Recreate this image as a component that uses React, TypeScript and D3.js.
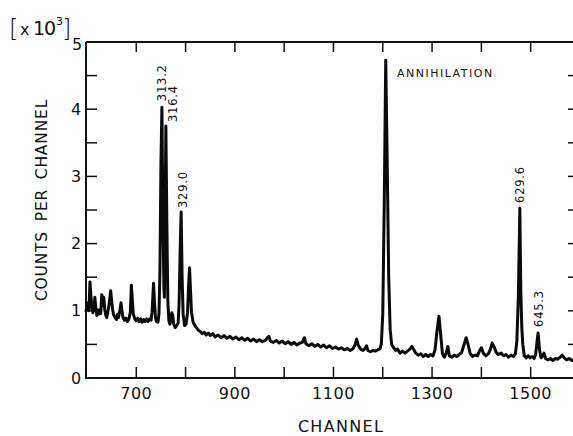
import React from "react";
import * as d3 from "d3";

// Gamma-ray spectrum: [channel, counts per channel (x10^3)]
const spectrum: [number, number][] = [
  [598, 1.0], [600, 1.05], [602, 1.12], [604, 1.0], [606, 1.43], [608, 1.22], [610, 1.06], [612, 0.97],
  [614, 1.04], [616, 1.2], [618, 1.04], [620, 0.93], [622, 1.01], [624, 0.95], [626, 1.02], [628, 0.96],
  [630, 1.24], [632, 1.08], [634, 1.2], [636, 1.02], [638, 0.94], [640, 0.9], [642, 0.97], [645, 1.1],
  [648, 1.3], [650, 1.15], [652, 1.02], [654, 0.94], [657, 0.9], [660, 0.87], [662, 0.95], [664, 0.9],
  [667, 1.02], [669, 1.12], [671, 1.0], [673, 0.9], [676, 0.86], [679, 0.89], [682, 0.84], [685, 0.88],
  [688, 0.98], [690, 1.38], [692, 1.16], [694, 0.95], [697, 0.88], [700, 0.85], [703, 0.89], [706, 0.84],
  [709, 0.88], [712, 0.83], [715, 0.87], [718, 0.84], [721, 0.88], [724, 0.84], [727, 0.88], [730, 0.86],
  [732, 0.98], [735, 1.41], [737, 1.12], [739, 0.9], [741, 0.84], [744, 0.83], [746, 0.95], [748, 1.6],
  [750, 3.2], [752, 4.03], [754, 2.4], [756, 1.35], [757, 1.2], [758, 1.8], [760, 3.75], [762, 2.3],
  [764, 1.15], [766, 0.86], [768, 0.8], [770, 0.84], [772, 0.97], [774, 0.93], [776, 0.8], [779, 0.75],
  [782, 0.78], [785, 0.82], [787, 1.15], [789, 1.9], [791, 2.47], [793, 1.5], [795, 0.95], [798, 0.78],
  [801, 0.8], [804, 0.98], [806, 1.35], [808, 1.64], [810, 1.3], [812, 0.98], [815, 0.84], [818, 0.79],
  [822, 0.75], [826, 0.71], [830, 0.69], [834, 0.66], [838, 0.68], [842, 0.64], [846, 0.67], [850, 0.63],
  [855, 0.66], [860, 0.61], [866, 0.64], [872, 0.6], [878, 0.63], [884, 0.59], [890, 0.62], [896, 0.58],
  [902, 0.61], [908, 0.57], [914, 0.6], [920, 0.56], [926, 0.59], [932, 0.55], [938, 0.58], [944, 0.54],
  [950, 0.57], [956, 0.54], [962, 0.56], [966, 0.6], [969, 0.62], [972, 0.55], [978, 0.53], [984, 0.56],
  [990, 0.52], [996, 0.55], [1002, 0.51], [1008, 0.54], [1014, 0.5], [1020, 0.53], [1026, 0.49],
  [1032, 0.52], [1037, 0.53], [1041, 0.6], [1044, 0.51], [1050, 0.48], [1056, 0.51], [1062, 0.47],
  [1068, 0.5], [1074, 0.46], [1080, 0.49], [1086, 0.45], [1092, 0.48], [1098, 0.44], [1104, 0.46],
  [1110, 0.43], [1116, 0.45], [1122, 0.42], [1128, 0.44], [1134, 0.41], [1140, 0.44], [1144, 0.5],
  [1147, 0.58], [1150, 0.49], [1155, 0.43], [1160, 0.41], [1164, 0.44], [1167, 0.48], [1170, 0.41],
  [1175, 0.39], [1180, 0.41], [1185, 0.4], [1190, 0.42], [1194, 0.43], [1197, 0.5], [1200, 0.95],
  [1203, 2.6], [1206, 4.73], [1209, 3.2], [1212, 1.5], [1215, 0.72], [1218, 0.5], [1222, 0.45],
  [1226, 0.41], [1230, 0.43], [1235, 0.37], [1240, 0.4], [1245, 0.37], [1250, 0.4], [1255, 0.43],
  [1259, 0.47], [1263, 0.42], [1267, 0.37], [1272, 0.34], [1277, 0.36], [1282, 0.32], [1287, 0.35],
  [1292, 0.32], [1297, 0.35], [1302, 0.33], [1306, 0.42], [1310, 0.7], [1314, 0.92], [1318, 0.6],
  [1321, 0.36], [1325, 0.31], [1329, 0.38], [1332, 0.47], [1335, 0.33], [1340, 0.31], [1345, 0.34],
  [1350, 0.32], [1355, 0.35], [1360, 0.38], [1365, 0.5], [1369, 0.6], [1373, 0.5], [1377, 0.37],
  [1382, 0.32], [1387, 0.34], [1392, 0.33], [1396, 0.4], [1400, 0.45], [1404, 0.37], [1409, 0.33],
  [1414, 0.36], [1418, 0.42], [1422, 0.52], [1426, 0.46], [1430, 0.38], [1435, 0.35], [1440, 0.37],
  [1445, 0.33], [1450, 0.35], [1455, 0.31], [1460, 0.34], [1465, 0.32], [1469, 0.36], [1472, 0.55],
  [1475, 1.2], [1478, 2.53], [1480, 1.3], [1482, 0.75], [1484, 0.5], [1487, 0.33], [1491, 0.3],
  [1495, 0.33], [1499, 0.3], [1503, 0.32], [1507, 0.29], [1510, 0.35], [1513, 0.55], [1515, 0.67],
  [1518, 0.42], [1521, 0.3], [1524, 0.33], [1527, 0.37], [1530, 0.29], [1535, 0.27], [1540, 0.29],
  [1545, 0.26], [1550, 0.29], [1555, 0.28], [1560, 0.31], [1564, 0.34], [1568, 0.3], [1573, 0.27],
  [1578, 0.29], [1584, 0.26], [1590, 0.28], [1596, 0.27],
];

const peakLabels = ["313.2", "316.4", "329.0", "629.6", "645.3"];
const peakChannels = [752, 760, 791, 1478, 1515];
const peakValues = [4.03, 3.75, 2.47, 2.53, 0.67];

const xTickLabels = [700, 900, 1100, 1300, 1500];
const xMinorTicks = [700, 800, 900, 1000, 1100, 1200, 1300, 1400, 1500];
const yTickLabels = [0, 1, 2, 3, 4, 5];
const yMinorTicks = [0.5, 1, 1.5, 2, 2.5, 3, 3.5, 4, 4.5];

const W = 573;
const H = 436;
const FONT = "'DejaVu Sans', sans-serif";

export default function App() {
  const x = d3.scaleLinear().domain([598, 1596]).range([86, 578]);
  const y = d3.scaleLinear().domain([0, 5]).range([378, 42]);
  const line = d3
    .line<[number, number]>()
    .x((d) => x(d[0]))
    .y((d) => y(d[1]));

  const labelDx = [0, 7, 2, 0, 1];
  const labelGap = [6, 4, 4, 5, 6];

  const x0 = x.range()[0];
  const x1 = x.range()[1];
  const y0 = y.range()[0];
  const yTop = y(5);

  return (
    <svg
      width={W}
      height={H}
      viewBox={`0 0 ${W} ${H}`}
      style={{ position: "absolute", left: 0, top: 0, background: "#fff" }}
    >
      <rect x={0} y={0} width={W} height={H} fill="#fff" />
      {/* frame */}
      <g stroke="#111" strokeWidth={2} fill="none">
        <line x1={x0} y1={yTop} x2={x0} y2={y0 + 1} />
        <line x1={x0 - 1} y1={y0} x2={x1} y2={y0} />
        <line x1={x0} y1={yTop} x2={x1} y2={yTop} />
        <line x1={x1} y1={yTop} x2={x1} y2={y0} />
      </g>
      {/* ticks */}
      <g stroke="#111" strokeWidth={1.5}>
        {xMinorTicks.map((t) => (
          <g key={"xt" + t}>
            <line x1={x(t)} x2={x(t)} y1={y0} y2={y0 - 11} />
            <line x1={x(t)} x2={x(t)} y1={yTop} y2={yTop + 10} />
          </g>
        ))}
        {yMinorTicks.map((t) => (
          <g key={"yt" + t}>
            <line x1={x0} x2={x0 + 11} y1={y(t)} y2={y(t)} />
            <line x1={x1} x2={x1 - 10} y1={y(t)} y2={y(t)} />
          </g>
        ))}
      </g>
      {/* spectrum */}
      <path
        d={line(spectrum) || ""}
        fill="none"
        stroke="#0a0a0a"
        strokeWidth={3}
        strokeLinejoin="round"
        strokeLinecap="round"
      />
      {/* tick labels */}
      <g fontFamily={FONT} fontSize={16} fill="#111">
        {xTickLabels.map((t) => (
          <text key={"xl" + t} x={x(t)} y={399} textAnchor="middle" letterSpacing={0.5}>
            {t}
          </text>
        ))}
        {yTickLabels.map((t) => (
          <text
            key={"yl" + t}
            x={t === 5 ? 77 : 76}
            y={t === 5 ? y(t) + 2 : y(t)}
            textAnchor="middle"
            dominantBaseline="central"
          >
            {t}
          </text>
        ))}
      </g>
      {/* axis titles */}
      <text
        x={341}
        y={432}
        textAnchor="middle"
        fontFamily={FONT}
        fontSize={16}
        letterSpacing={1.3}
        fill="#111"
      >
        CHANNEL
      </text>
      <text
        transform="translate(42,200) rotate(-90)"
        textAnchor="middle"
        dominantBaseline="central"
        fontFamily={FONT}
        fontSize={15.5}
        letterSpacing={0.8}
        wordSpacing={4}
        fill="#111"
      >
        COUNTS PER CHANNEL
      </text>
      {/* multiplier */}
      <g fontFamily={FONT} fill="#111">
        <text x={9} y={37} fontSize={24} fontWeight={300}>[</text>
        <text x={20} y={35} fontSize={16}>x</text>
        <text x={33} y={35} fontSize={19} letterSpacing={-1}>10</text>
        <text x={56} y={25} fontSize={11}>3</text>
        <text x={62} y={37} fontSize={24} fontWeight={300}>]</text>
      </g>
      {/* annotations */}
      <text
        x={397}
        y={77}
        fontFamily={FONT}
        fontSize={11}
        letterSpacing={1.5}
        fill="#111"
      >
        ANNIHILATION
      </text>
      {peakLabels.map((lab, i) => {
        const px = x(peakChannels[i]) + labelDx[i];
        const py = y(peakValues[i]) - labelGap[i];
        return (
          <text
            key={lab}
            transform={`translate(${px},${py}) rotate(-90)`}
            dominantBaseline="central"
            fontFamily={FONT}
            fontSize={11.5}
            letterSpacing={0.8}
            fill="#111"
          >
            {lab}
          </text>
        );
      })}
    </svg>
  );
}
